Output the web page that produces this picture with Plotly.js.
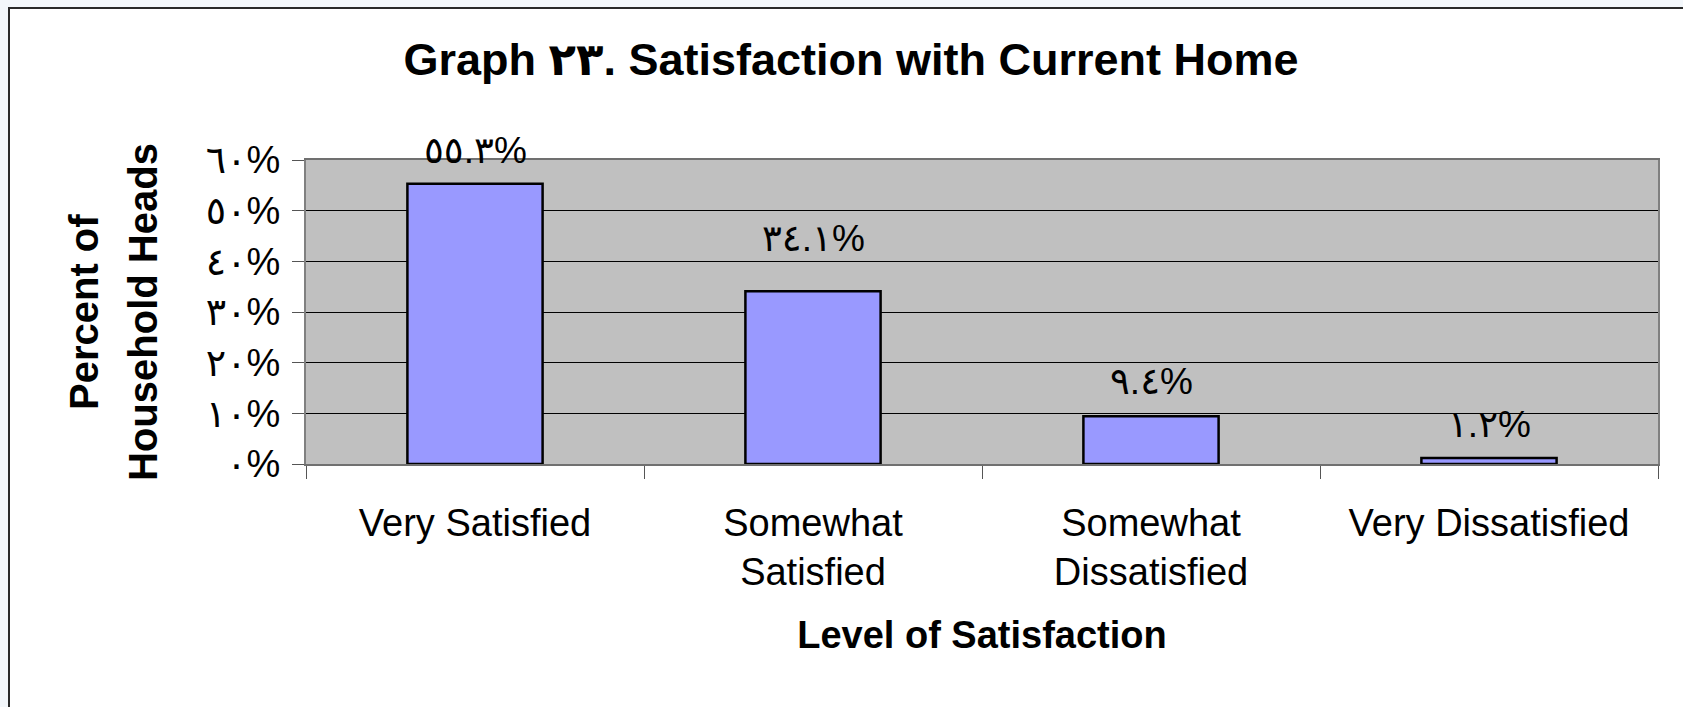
<!DOCTYPE html>
<html>
<head>
<meta charset="utf-8">
<script src="https://cdn.plot.ly/plotly-3.0.1.min.js"></script>
<style>
  html, body { margin: 0; padding: 0; background: #f3f7fb; overflow: hidden; }
  #frame { position: absolute; left: 8px; top: 7px; width: 1673px; height: 698px;
           border-left: 2px solid #2a2a2a; border-top: 2px solid #2a2a2a; background: #fff; }
  #chart { width: 1673px; height: 698px; }
</style>
</head>
<body>
<div id="frame"><div id="chart"></div></div>
<script>
// satisfaction levels and share of household heads (%)
const levels = ['Very Satisfied', 'Somewhat<br>Satisfied', 'Somewhat<br>Dissatisfied', 'Very Dissatisfied'];
const shares = [55.3, 34.1, 9.4, 1.2];
const shareText = ['٥٥.٣%', '٣٤.١%', '٩.٤%', '١.٢%'];
const tickVals = [0, 10, 20, 30, 40, 50, 60];
const tickText = ['٠%', '١٠%', '٢٠%', '٣٠%', '٤٠%', '٥٠%', '٦٠%'];
const yTitleLines = ['Percent of', 'Household Heads'];
const labelLift = [11, 30, 12, 11];

const FONT = '"Liberation Sans", Arial, "DejaVu Sans", sans-serif';

// y title lines, placed as rotated annotations (paper x of each line)
const yTitleX = [-0.1642, -0.1206];

const el = document.getElementById('chart');
Plotly.newPlot(el, [{
  type: 'bar', x: levels, y: shares,
  marker: { color: '#9999ff', line: { color: '#000', width: 2.5 } },
  hoverinfo: 'skip'
}], {
  width: 1673, height: 698,
  margin: { l: 296, r: 25, t: 151, b: 243 },
  paper_bgcolor: '#fff', plot_bgcolor: '#c0c0c0',
  font: { family: FONT, color: '#000' },
  bargap: 0.6, showlegend: false,
  title: {
    text: '<b>Graph ٢٣. Satisfaction with Current Home</b>',
    font: { size: 45, family: FONT, color: '#000' },
    xref: 'container', yref: 'container', x: 0.5027, y: 0.9284,
    xanchor: 'center', yanchor: 'middle'
  },
  xaxis: {
    type: 'category', tickson: 'boundaries', ticks: 'outside', ticklen: 13, tickcolor: '#555', tickwidth: 1,
    showline: true, linecolor: '#707070', linewidth: 2, mirror: true,
    tickfont: { size: 38 }, ticklabelstandoff: 24,
    title: { text: '<b>Level of Satisfaction</b>', font: { size: 38 }, standoff: 29 },
    automargin: false
  },
  yaxis: {
    range: [0, 60], tickvals: tickVals, ticktext: tickText,
    ticks: 'outside', ticklen: 12, tickcolor: '#555', tickwidth: 1,
    showline: true, linecolor: '#808080', linewidth: 2, mirror: true,
    showgrid: true, gridcolor: '#000', gridwidth: 1, zeroline: false,
    tickfont: { size: 38 }, ticklabelstandoff: 4,
    automargin: false
  },
  annotations: shares.map((v, i) => ({
    x: levels[i], y: v, text: shareText[i], showarrow: false,
    xanchor: 'center', yanchor: 'bottom', yshift: labelLift[i],
    font: { size: 37, family: FONT, color: '#000' }
  })).concat(yTitleLines.map((t, i) => ({
    xref: 'paper', yref: 'paper', x: yTitleX[i], y: 0.5, text: '<b>' + t + '</b>',
    textangle: -90, showarrow: false, xanchor: 'center', yanchor: 'middle',
    font: { size: 40, family: FONT, color: '#000' }
  })))
}, { displayModeBar: false, staticPlot: true });
</script>
</body>
</html>
